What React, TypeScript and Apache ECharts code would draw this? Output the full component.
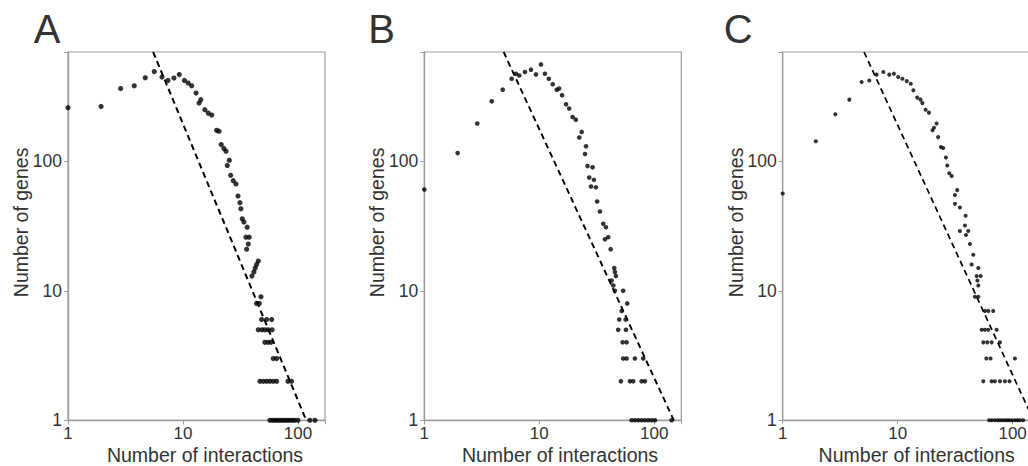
import { useEffect, useRef } from "react";
import * as echarts from "echarts";

// ---------- data ----------
const panelLabels = ["A", "B", "C"];
const xAxisTitle = "Number of interactions";
const yAxisTitle = "Number of genes";
const xAxisMin = 1;
const xAxisMax = 172;
const yAxisMin = 1;
const yAxisMax = 700;

// [number of interactions, number of genes]
const panelAPoints: [number, number][] = [
  [1, 260], [1.94, 266], [2.87, 365], [3.77, 384], [4.7, 442], [5.63, 494], [6.57, 448],
  [7.41, 422], [8.35, 440], [9.29, 469], [10.3, 422], [11.1, 403], [11.9, 384], [13.0, 337],
  [14.3, 300], [13.8, 282], [15.5, 251], [16.6, 236], [17.8, 228], [19.6, 174], [20.6, 171],
  [21.5, 135], [22.7, 126], [23.7, 120], [25.3, 102], [24.3, 93], [26.0, 78], [27.4, 71],
  [28.9, 67], [30.1, 54], [31.3, 48], [31.9, 43], [32.8, 36], [33.9, 34], [36.2, 31],
  [35.3, 26], [37.7, 26], [37.0, 23], [35.8, 21], [45.2, 17], [43.7, 16], [42.5, 15],
  [41.4, 14], [39.8, 13], [47.7, 9], [43.7, 8], [46.1, 8],
  [48.3, 6], [53.4, 6], [59.1, 6],
  [45.2, 5], [48.7, 5], [51.6, 5], [55.0, 5], [59.6, 5],
  [51.6, 4], [55.0, 4], [58.3, 4],
  [61.0, 3], [65.3, 3],
  [46.7, 2], [49.9, 2], [53.4, 2], [57.1, 2], [61.0, 2], [65.3, 2], [81.9, 2], [88.0, 2],
  [57.1, 1], [60.1, 1], [63.1, 1], [66.3, 1], [69.7, 1], [73.3, 1], [77.0, 1], [80.9, 1],
  [85.0, 1], [89.4, 1], [93.9, 1], [100, 1], [127, 1], [140.6, 1],
];

const panelBPoints: [number, number][] = [
  [1, 60.6], [1.95, 116], [2.89, 196], [3.86, 291], [4.81, 358], [5.75, 435], [6.27, 475],
  [6.7, 461], [7.51, 490], [8.47, 511], [9.36, 470], [10.35, 561], [11.2, 475], [12.1, 435],
  [13.1, 394], [14.2, 358], [14.9, 365], [15.8, 324], [17.1, 276], [18.2, 256], [19.5, 220],
  [20.8, 210], [23.4, 169], [22.3, 153], [25.5, 131], [25.0, 114], [26.3, 92], [29.1, 90],
  [27.2, 75], [29.9, 72], [28.2, 64], [31.1, 63], [31.9, 49], [33.7, 41], [36.0, 33],
  [38.0, 31], [37.3, 25], [39.8, 26], [41.8, 21], [44.9, 15], [45.5, 14], [46.4, 13],
  [42.6, 12], [44.1, 11], [45.5, 10], [53.7, 10], [58.2, 8], [52.1, 7],
  [49.6, 6], [56.4, 6],
  [48.6, 5], [56.8, 5],
  [53.1, 4], [57.5, 4],
  [53.7, 3], [57.5, 3], [67.9, 3], [80.2, 3],
  [51.3, 2], [61.5, 2], [65.6, 2], [77.7, 2], [83.0, 2],
  [63.6, 1], [67.9, 1], [72.6, 1], [77.7, 1], [83.0, 1], [88.7, 1], [94.9, 1], [101.5, 1],
  [141.7, 1],
];

const panelCPoints: [number, number][] = [
  [1, 56.5], [1.94, 143], [2.87, 231], [3.8, 300], [4.86, 410], [5.66, 422], [6.56, 468],
  [7.5, 490], [8.45, 468], [9.28, 476], [10.1, 448], [11.0, 435], [12.0, 417], [13.0, 398],
  [13.7, 354], [14.8, 311], [15.8, 300], [16.4, 282], [17.5, 251], [18.7, 238], [21.8, 196],
  [20.7, 182], [20.1, 174], [22.5, 154], [23.8, 129], [24.9, 127], [26.3, 107], [27.0, 93],
  [28.1, 81], [29.5, 77], [33.0, 60], [31.5, 55], [31.5, 47], [34.8, 44], [39.0, 38],
  [38.5, 32], [34.8, 29], [41.1, 29], [39.3, 27], [42.5, 23], [45.5, 19], [44.0, 16],
  [50.3, 15], [48.7, 13], [52.7, 13], [49.4, 12], [50.3, 11], [47.0, 9], [50.3, 9],
  [57.4, 7], [61.4, 7], [67.8, 7],
  [53.8, 5], [57.4, 5], [61.4, 5], [72.6, 5],
  [55.6, 4], [60.2, 4], [65.7, 4], [77.6, 4],
  [59.1, 3], [64.3, 3], [104.7, 3],
  [55.6, 2], [65.7, 2], [70.1, 2], [77.6, 2], [85.8, 2], [94.0, 2],
  [62.5, 1], [66, 1], [70.1, 1], [74, 1], [77.6, 1], [81.5, 1], [85.8, 1], [90, 1],
  [94.0, 1], [99, 1], [104.7, 1], [110, 1], [115.7, 1], [123.6, 1],
];

// power-law fit lines (end points)
const panelAFit: [number, number][] = [[5.5, 700], [118, 1]];
const panelBFit: [number, number][] = [[4.9, 700], [148, 1]];
const panelCFit: [number, number][] = [[5.1, 700], [152, 1]];

// ---------- layout / style ----------
const FONT = "'Liberation Sans', Arial, Helvetica, sans-serif";
const TEXT = "#333333";
const AXIS = "#9c9c9c";
const gridLefts = [68, 424.3, 782.7];
const gridTop = 52;
const gridWidth = 257;
const gridHeight = 368.3;
const dotSizes = [5.2, 4.6, 4.1];
const lineWidths = [2, 1.9, 1.7];

const pow10Label = (v: number) => {
  const l = Math.log10(v);
  const r = Math.round(l);
  return Math.abs(l - r) < 1e-6 ? String(Math.round(Math.pow(10, r))) : "";
};

export default function App() {
  const ref = useRef<HTMLDivElement>(null);

  useEffect(() => {
    if (!ref.current) return;
    const chart = echarts.init(ref.current, undefined, { renderer: "svg" });
    const points = [panelAPoints, panelBPoints, panelCPoints];
    const fits = [panelAFit, panelBFit, panelCFit];

    const axisCommon = {
      type: "log" as const,
      logBase: 10,
      axisLine: { show: true, lineStyle: { color: AXIS, width: 1.3 } },
      axisTick: { show: true, length: 4, lineStyle: { color: AXIS, width: 1 } },
      splitLine: { show: false },
      minorTick: { show: false },
      minorSplitLine: { show: false },
    };

    const grid = gridLefts.map((left) => ({
      left,
      top: gridTop,
      width: gridWidth,
      height: gridHeight,
      show: true,
      borderColor: AXIS,
      borderWidth: 1.2,
      backgroundColor: "transparent",
      containLabel: false,
      outerBoundsMode: "none",
    }));

    const xAxis = gridLefts.map((_, i) => ({
      ...axisCommon,
      gridIndex: i,
      min: xAxisMin,
      max: xAxisMax,
      axisLabel: { formatter: pow10Label, fontSize: 17, color: TEXT, margin: 5, fontFamily: FONT },
    }));
    const yAxis = gridLefts.map((_, i) => ({
      ...axisCommon,
      gridIndex: i,
      min: yAxisMin,
      max: yAxisMax,
      axisLabel: { formatter: pow10Label, fontSize: 17.5, color: TEXT, margin: 6, fontFamily: FONT },
    }));

    const series: any[] = [];
    points.forEach((data, i) => {
      series.push({
        type: "scatter",
        xAxisIndex: i,
        yAxisIndex: i,
        data,
        symbol: "circle",
        symbolSize: dotSizes[i],
        itemStyle: { color: "#000000" },
        clip: false,
        silent: true,
      });
      series.push({
        type: "line",
        xAxisIndex: i,
        yAxisIndex: i,
        data: fits[i],
        symbol: "none",
        showSymbol: false,
        lineStyle: { color: "#000000", width: lineWidths[i], type: [6, 4] },
        clip: true,
        silent: true,
      });
    });

    const graphic: any[] = [];
    const letterX = [47.2, 381.7, 738.3];
    const xTitleX = [205, 560, 916.7];
    panelLabels.forEach((lab, i) => {
      graphic.push({
        type: "text",
        x: letterX[i],
        y: 29,
        style: { text: lab, fontSize: 40, fontFamily: FONT, fill: TEXT, textAlign: "center", textVerticalAlign: "middle" },
      });
      graphic.push({
        type: "text",
        x: xTitleX[i],
        y: 455,
        style: { text: xAxisTitle, fontSize: 19.5, fontFamily: FONT, fill: TEXT, textAlign: "center", textVerticalAlign: "middle" },
      });
      graphic.push({
        type: "text",
        x: gridLefts[i] - 47,
        y: 222.4,
        rotation: Math.PI / 2,
        style: { text: yAxisTitle, fontSize: 19.5, fontFamily: FONT, fill: TEXT, textAlign: "center", textVerticalAlign: "middle" },
      });
    });

    chart.setOption({
      animation: false,
      backgroundColor: "#ffffff",
      grid,
      xAxis,
      yAxis,
      series,
      graphic,
    });

    return () => chart.dispose();
  }, []);

  return (
    <div
      ref={ref}
      style={{ position: "fixed", left: 0, top: 0, width: 1028, height: 466, background: "#fff" }}
    />
  );
}
